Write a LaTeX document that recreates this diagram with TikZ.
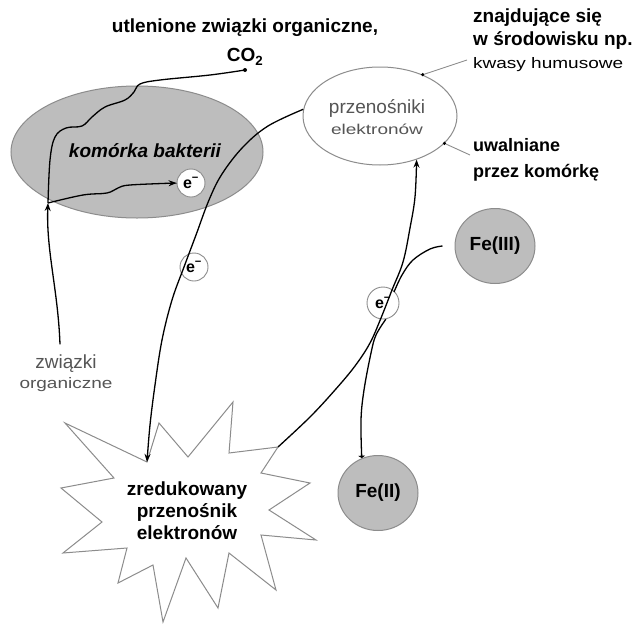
\documentclass[tikz,border=0pt]{standalone}
\usepackage{fontspec}
\setmainfont{Liberation Sans}
\usetikzlibrary{arrows.meta,shapes.geometric}
\definecolor{cellgray}{HTML}{BDBDBD}
\definecolor{edgegray}{HTML}{8C8C8C}
\definecolor{txtgray}{HTML}{555555}
\begin{document}
\begin{tikzpicture}[x=1pt,y=-1pt,
  conn/.style={line width=1.3pt, draw=black},
  tip/.style={-{Stealth[length=8pt,width=6pt]}},
  leader/.style={draw=edgegray, line width=0.9pt},
  ecirc/.style={circle, draw=edgegray, line width=0.9pt, fill=white, minimum size=28pt, inner sep=0pt, font=\bfseries\fontsize{16}{16}\selectfont},
  febox/.style={ellipse, draw=edgegray, line width=1pt, fill=cellgray, minimum width=80pt, minimum height=75pt, inner sep=0pt, font=\bfseries\fontsize{19}{19}\selectfont},
  btxt/.style={font=\bfseries\fontsize{19}{23}\selectfont, inner sep=0pt},
  gtxt/.style={font=\fontsize{19}{21}\selectfont, text=txtgray, inner sep=0pt},
  dot/.style={circle, fill=black, minimum size=3.5pt, inner sep=0pt}
]
\useasboundingbox (0,0) rectangle (640,624);
\fill[white] (0,0) rectangle (640,624);

% bacterial cell
\node[ellipse, draw=edgegray, line width=1pt, fill=cellgray, minimum width=252pt, minimum height=132pt] (cell) at (137,152) {};
\node[btxt, font=\bfseries\itshape\fontsize{19}{23}\selectfont] (celltxt) at (145,151) {komórka bakterii};

% electron carriers
\node[ellipse, draw=edgegray, line width=1pt, fill=white, minimum width=154pt, minimum height=98pt] (carrier) at (380,116) {};
\node[gtxt, align=center] (carriertxt) at (377,117) {przenośniki\\\scalebox{1}[0.75]{elektronów}};

% starburst
\path (65,423) coordinate (s1) (147,462) coordinate (s2) (159,423) coordinate (s3)
      (188,457) coordinate (s4) (233,402) coordinate (s5) (229,453) coordinate (s6)
      (278,447) coordinate (s7) (261,473) coordinate (s8) (310,483) coordinate (s9)
      (269,510) coordinate (s10) (316,540) coordinate (s11) (261,535) coordinate (s12)
      (276,590) coordinate (s13) (229,553) coordinate (s14) (218,608) coordinate (s15)
      (186,558) coordinate (s16) (163,622) coordinate (s17) (153,565) coordinate (s18)
      (118,583) coordinate (s19) (127,548) coordinate (s20) (63,553) coordinate (s21)
      (102,522) coordinate (s22) (61,488) coordinate (s23) (114,478) coordinate (s24);
\draw[draw=edgegray, line width=1pt, fill=white, line join=miter]
  (s1) -- (s2) -- (s3) -- (s4) -- (s5) -- (s6) -- (s7) -- (s8) -- (s9) -- (s10) -- (s11) -- (s12)
  -- (s13) -- (s14) -- (s15) -- (s16) -- (s17) -- (s18) -- (s19) -- (s20) -- (s21) -- (s22) -- (s23) -- (s24) -- cycle;
\node[btxt, align=center, font=\bfseries\fontsize{19}{22}\selectfont] (sbtxt) at (187,511) {zredukowany\\przenośnik\\elektronów};

% electrons
\node[ecirc] (e1) at (191,183) {e\textsuperscript{\char"2212}};
\node[ecirc] (e2) at (194,267) {e\textsuperscript{\char"2212}};
\node[ecirc, minimum size=32pt] (e3) at (383,303) {e\textsuperscript{\char"2212}};

% iron
\node[febox] (fe3) at (495,246) {Fe(III)};
\node[febox] (fe2) at (378,493) {Fe(II)};

% texts
\node[btxt, align=center, font=\bfseries\fontsize{19}{29}\selectfont] (title) at (245,42) {utlenione związki organiczne,\\CO\textsubscript{2}};
\node[gtxt, align=center, font=\fontsize{19}{20}\selectfont] (zw) at (66,373) {związki\\\scalebox{1}[0.8]{organiczne}};
\node[btxt, align=left, anchor=west] (env) at (473,40) {znajdujące się\\w środowisku np.\\{\mdseries\scalebox{1}[0.8]{kwasy humusowe}}};
\node[btxt, align=left, anchor=west, font=\bfseries\fontsize{18}{26}\selectfont] (rel) at (473,160) {uwalniane\\przez komórkę};

% leaders
\node[dot] (d1) at (carrier.44) {};
\node[dot] (d2) at (carrier.-23) {};
\coordinate (l1) at (467,60);
\coordinate (l2) at (470,155);
\draw[leader] (d1) -- (l1);
\draw[leader] (d2) -- (l2);

% connectors
\coordinate (split) at (48,203);
\coordinate (co2end) at (245,70);
\draw[conn, tip] ([xshift=-6pt,yshift=10pt]zw.north) .. controls (58,290) and (46,250) .. (split);
\draw[conn] plot[smooth, tension=0.6] coordinates {(split) (50,160) (55,137) (66,128) (82,126) (92,117) (105,107) (125,100) (134,92) (140,84) (160,80) (210,75) (co2end)};
\fill (co2end) circle (2pt);
\draw[conn, tip] plot[smooth, tension=0.6] coordinates {(split) (83,195) (107,193) (118,188) (130,185) (e1.west)};
\draw[conn, tip] plot[smooth, tension=0.6] coordinates {(carrier.175) (268,126) (243,147) (222,174) (209,200) (196,235) (184,267) (172,300) (162,340) (155,385) (150,425) (s2)};
\draw[conn, tip] plot[smooth, tension=0.6] coordinates {(s7) (310,417) (335,390) (355,366) (370,343) (381,318) (392,290) (403,262) (410,228) (415,197) (carrier.-50)};
\draw[conn] plot[smooth, tension=0.6] coordinates {([xshift=-12pt]fe3.west) (430,249) (413,260) (402,275) (394,292)};
\draw[conn, -{Latex[length=2.5pt,width=8pt]}] plot[smooth, tension=0.6] coordinates {(e3.-80) (376,335) (371,353) (364,390) (361,420) (fe2.115)};
\end{tikzpicture}
\end{document}
